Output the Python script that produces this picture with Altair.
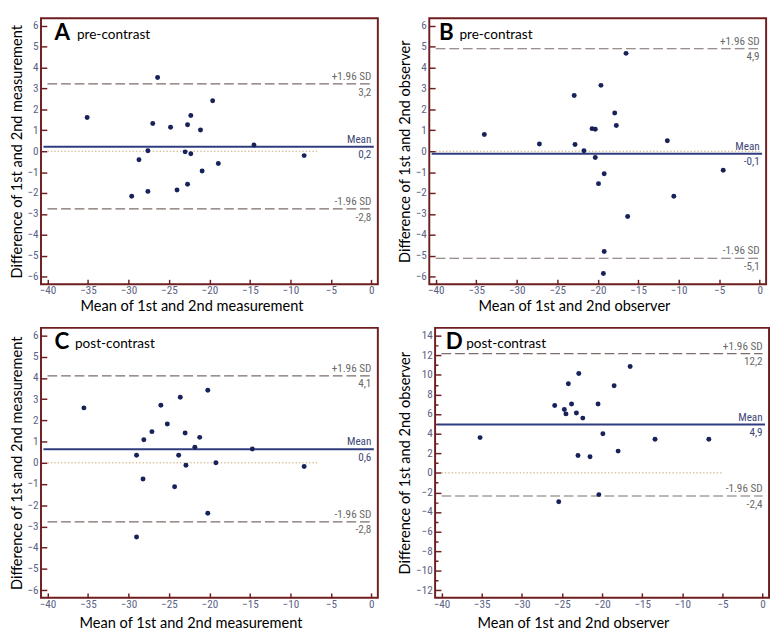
import altair as alt
import pandas as pd

# ---------------- data ----------------
# Panel A: pre-contrast, 1st vs 2nd measurement
a_mean = [-35.1, -26.4, -27.0, -24.8, -22.7, -22.3, -21.1, -19.6, -27.6, -28.7,
          -23.0, -22.3, -14.5, -8.3, -18.9, -20.9, -29.6, -27.6, -24.0, -22.7]
a_diff = [1.61, 3.53, 1.33, 1.15, 1.27, 1.71, 1.02, 2.41, 0.02, -0.41,
          -0.03, -0.12, 0.30, -0.21, -0.59, -0.95, -2.15, -1.92, -1.85, -1.58]
a_lines = [0.21, 3.22, -2.76]          # mean, +1.96 SD, -1.96 SD

# Panel B: pre-contrast, 1st vs 2nd observer
b_mean = [-34.0, -27.2, -22.9, -22.8, -21.7, -20.7, -20.3, -20.3, -19.6, -17.9,
          -17.7, -16.5, -19.2, -19.9, -16.3, -11.4, -10.6, -4.5, -19.2, -19.3]
b_diff = [0.80, 0.35, 2.67, 0.32, 0.02, 1.08, 1.05, -0.30, 3.15, 1.83,
          1.23, 4.68, -1.08, -1.55, -3.12, 0.50, -2.15, -0.91, -4.80, -5.85]
b_lines = [-0.12, 4.90, -5.12]

# Panel C: post-contrast, 1st vs 2nd measurement
c_mean = [-35.5, -26.0, -23.6, -20.2, -25.2, -27.1, -28.1, -23.0, -21.2, -21.8,
          -29.0, -23.8, -14.7, -22.9, -19.2, -8.3, -28.2, -24.3, -20.2, -29.0]
c_diff = [2.59, 2.71, 3.09, 3.42, 1.83, 1.47, 1.09, 1.41, 1.20, 0.74,
          0.36, 0.36, 0.65, -0.11, 0.00, -0.17, -0.76, -1.13, -2.38, -3.50]
c_lines = [0.64, 4.10, -2.78]

# Panel D: post-contrast, 1st vs 2nd observer
d_mean = [-35.2, -25.9, -24.7, -24.5, -24.2, -23.8, -23.2, -22.9, -22.4, -20.5,
          -19.9, -18.5, -16.5, -23.0, -21.5, -18.0, -13.4, -6.7, -25.4, -20.4]
d_diff = [3.60, 6.87, 6.47, 6.02, 9.09, 7.03, 6.12, 10.14, 5.59, 7.03,
          3.99, 8.89, 10.86, 1.77, 1.64, 2.22, 3.43, 3.43, -2.94, -2.22]
d_lines = [4.94, 12.18, -2.36]

zero_line_end = [-6.7, 0.0, -6.7, -5.0]
letters = ["A", "B", "C", "D"]
phases = ["pre-contrast", "pre-contrast", "post-contrast", "post-contrast"]
line_names = ["Mean", "+1.96 SD", "-1.96 SD"]
x_tick_values = [-40, -35, -30, -25, -20, -15, -10, -5, 0]

MEAS_X = "Mean of 1st and 2nd measurement"
MEAS_Y = "Difference of 1st and 2nd measurement"
OBS_X = "Mean of 1st and 2nd observer"
OBS_Y = "Difference of 1st and 2nd observer"

# ---------------- styling ----------------
FRAME = "#6f1d1f"
NAVY = "#17215a"
MEAN_LINE = "#2f3c7e"
SD_LINE = "#7a6e6a"
ZERO_LINE = "#c9a66b"
TICK_LABEL = "#5a6284"
NARROW = "Liberation Sans Narrow, Arial Narrow, Roboto Condensed, Liberation Sans"
HUMAN = "Lato, Open Sans, sans-serif"


def fmt(v):
    return f"{v:.1f}".replace(".", ",")


def panel(i, mx, dy, lines, ydom, yvals, label_every, xtitle, ytitle,
          w, h, xtitle_pad, xtitle_x, letter_dx, phase_dx):
    xs = alt.Scale(domain=[-40.8, 0.8], nice=False, zero=False)
    ys = alt.Scale(domain=ydom, nice=False, zero=False)

    minor_test = f"datum.value % {label_every} !== 0"
    xaxis = alt.Axis(values=x_tick_values, title=xtitle, format="d",
                     offset=-5, tickSize=5, domain=False, grid=False,
                     labelPadding=1, titlePadding=xtitle_pad, labelOverlap=False,
                     titleX=xtitle_x, titleAlign="center")
    yaxis = alt.Axis(values=yvals, title=ytitle, format="d",
                     offset=-6, tickSize=6, domain=False, grid=False,
                     labelPadding=3, titlePadding=3, labelOverlap=False,
                     labelExpr=f"datum.value % {label_every} === 0 ? datum.label : ''",
                     tickDash={"condition": {"test": minor_test, "value": [0, 3, 3, 0]},
                               "value": [6, 0]})

    def X(f):
        return alt.X(f, type="quantitative", scale=xs, axis=xaxis)

    def Y(f):
        return alt.Y(f, type="quantitative", scale=ys, axis=yaxis)

    pts = pd.DataFrame({"m": mx, "d": dy})
    points = alt.Chart(pts).mark_circle(size=26, color=NAVY, opacity=1).encode(
        x=X("m"), y=Y("d"))

    zero = alt.Chart(pd.DataFrame({"m": [-40.0], "m2": [zero_line_end[i]], "d": [0.0]})).mark_rule(
        color=ZERO_LINE, strokeWidth=1, strokeDash=[1.5, 2]
    ).encode(x=X("m"), x2="m2:Q", y=Y("d"))

    mean = alt.Chart(pd.DataFrame({"m": [-40.5], "m2": [0.3], "d": [lines[0]]})).mark_rule(
        color=MEAN_LINE, strokeWidth=2
    ).encode(x=X("m"), x2="m2:Q", y=Y("d"))

    sd = alt.Chart(pd.DataFrame({"m": [-40.0, -40.0], "m2": [0.0, 0.0], "d": lines[1:]})).mark_rule(
        color=SD_LINE, strokeWidth=1.2, strokeDash=[10, 4]
    ).encode(x=X("m"), x2="m2:Q", y=Y("d"))

    colors = ["#3e4878", "#6a6a6a", "#6a6a6a"]
    lab = pd.DataFrame({"m": [0.0] * 3, "d": lines, "name": line_names,
                        "val": [fmt(v) for v in lines], "c": colors})
    above = alt.Chart(lab).mark_text(align="right", baseline="bottom", dy=-2,
                                     font=NARROW, fontSize=11.5).encode(
        x=X("m"), y=Y("d"), text="name:N", color=alt.Color("c:N", scale=None))
    below = alt.Chart(lab).mark_text(align="right", baseline="top", dy=3,
                                     font=NARROW, fontSize=11.5).encode(
        x=X("m"), y=Y("d"), text="val:N", color=alt.Color("c:N", scale=None))

    tdf = pd.DataFrame({"letter": [letters[i]], "phase": [phases[i]]})
    let = alt.Chart(tdf).mark_text(align="left", baseline="alphabetic", font=HUMAN,
                                   fontSize=23, fontWeight="bold", color="black").encode(
        text="letter:N", x=alt.value(letter_dx), y=alt.value(22))
    ph = alt.Chart(tdf).mark_text(align="left", baseline="alphabetic", font=HUMAN,
                                  fontSize=14, color="black").encode(
        text="phase:N", x=alt.value(phase_dx), y=alt.value(21))

    return alt.layer(zero, sd, mean, points, above, below, let, ph).properties(width=w, height=h)


y6 = [-6 + 0.5 * k for k in range(25)]
y14 = list(range(-12, 15))

pA = panel(0, a_mean, a_diff, a_lines, [-6.36, 6.36], y6, 1, MEAS_X, MEAS_Y, 347, 274, 3, 155, 14, 37)
pB = panel(1, b_mean, b_diff, b_lines, [-6.36, 6.36], y6, 1, OBS_X, OBS_Y, 347, 274, 3, 149, 10, 31)
pC = panel(2, c_mean, c_diff, c_lines, [-6.36, 6.36], y6, 1, MEAS_X, MEAS_Y, 347, 278, 6, 154, 14, 35)
pD = panel(3, d_mean, d_diff, d_lines, [-12.75, 14.8], y14, 2, OBS_X, OBS_Y, 344, 278, 6, 142, 11, 32)

chart = alt.vconcat(
    alt.hconcat(pA, pB, spacing=18),
    alt.hconcat(pC, pD, spacing=18),
    spacing=12,
).properties(padding=0, background="white").configure_view(
    stroke=FRAME, strokeWidth=2
).configure_axis(
    labelFont=NARROW, labelFontSize=11.5, labelColor=TICK_LABEL,
    tickColor=FRAME, tickWidth=1.5,
    titleFont=HUMAN, titleFontSize=15, titleFontWeight="normal", titleColor="black",
)

chart.save("out.html", embed_options={"renderer": "svg", "actions": False})
